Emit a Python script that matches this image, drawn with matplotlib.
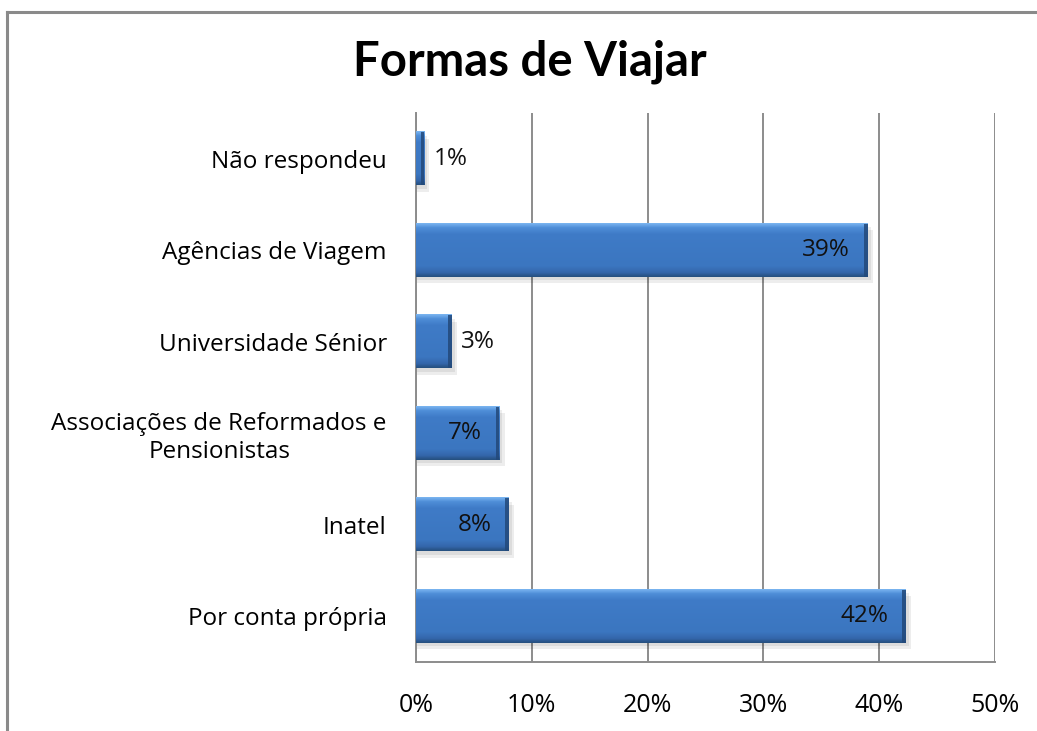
import numpy as np
import matplotlib.pyplot as plt
from matplotlib.patches import Rectangle
from matplotlib.lines import Line2D
from matplotlib.colors import LinearSegmentedColormap

categorias = ['Por conta própria', 'Inatel', 'Associações de Reformados e\nPensionistas',
              'Universidade Sénior', 'Agências de Viagem', 'Não respondeu']
valores = [42.3, 8.0, 7.2, 3.1, 39.0, 0.7]
rotulos = ['42%', '8%', '7%', '3%', '39%', '1%']
xticks = [0, 10, 20, 30, 40, 50]

plt.rcParams['font.family'] = ['Open Sans', 'DejaVu Sans']
fs = 17.5

fig = plt.figure(figsize=(10.37, 7.31), dpi=100)
ax = fig.add_axes([416/1037, 1-662/731, 579/1037, 549/731])

# moldura do grafico (so esquerda e topo ficam visiveis)
fx, fy = 7/1037, 1-12/731
fig.lines.append(Line2D([fx, fx], [0, fy], transform=fig.transFigure, color='#8a8a8a', lw=2.2))
fig.lines.append(Line2D([fx, 1], [fy, fy], transform=fig.transFigure, color='#8a8a8a', lw=2.2))

y = np.arange(len(categorias))
h = 0.58
bars = ax.barh(y, valores, height=h, color='#3d79c4', zorder=3)

cmap = LinearSegmentedColormap.from_list('bev', [(0, '#7ab4f0'), (0.08, '#4f8ed8'),
                                                 (0.2, '#3f7bc7'), (0.8, '#3b76c0'),
                                                 (0.92, '#3466ab'), (1, '#26507f')])
grad = np.linspace(0, 1, 100).reshape(-1, 1)
for b in bars:
    x0, y0, w, hh = b.get_x(), b.get_y(), b.get_width(), b.get_height()
    # sombra
    ax.add_patch(Rectangle((x0, y0 - 0.07), w + 0.45, hh, color='#000000', alpha=0.07,
                           lw=0, zorder=2))
    ax.add_patch(Rectangle((x0, y0 - 0.04), w + 0.25, hh, color='#000000', alpha=0.07,
                           lw=0, zorder=2))
    ax.imshow(grad, extent=(x0, x0 + w, y0, y0 + hh), cmap=cmap, aspect='auto',
              origin='upper', zorder=3.5)
    ax.add_patch(Rectangle((x0 + w - 0.3, y0), 0.3, hh, color='#23497a', alpha=0.85,
                           lw=0, zorder=4))

for yi, v, t in zip(y, valores, rotulos):
    if v > 5:
        ax.text(v - 1.5, yi, t, ha='right', va='center', fontsize=fs, color='#111111', zorder=5)
    else:
        ax.text(v + 0.8, yi, t, ha='left', va='center', fontsize=fs, color='#111111', zorder=5)

ax.set_xlim(0, 50)
ax.set_ylim(-0.5, 5.5)
ax.set_xticks(xticks)
ax.set_xticklabels([f'{x}%' for x in xticks], fontsize=18)
ax.set_yticks(y)
ax.set_yticklabels(categorias, fontsize=fs)
for lab in ax.get_yticklabels():
    lab.set_multialignment('center')
ax.tick_params(axis='x', length=0, pad=22)
ax.tick_params(axis='y', length=0, pad=21)
ax.grid(axis='x', color='#8c8c8c', lw=1.4, zorder=1)
ax.set_axisbelow(True)
for s in ['top', 'right']:
    ax.spines[s].set_visible(False)
for s in ['left', 'bottom']:
    ax.spines[s].set_color('#8c8c8c')
    ax.spines[s].set_linewidth(1.4)

fig.text(530/1037, 1-62/731, 'Formas de Viajar', ha='center', va='center',
         fontsize=34, fontweight='bold', family=['Lato', 'DejaVu Sans'])

fig.savefig('out.png', dpi=100)
